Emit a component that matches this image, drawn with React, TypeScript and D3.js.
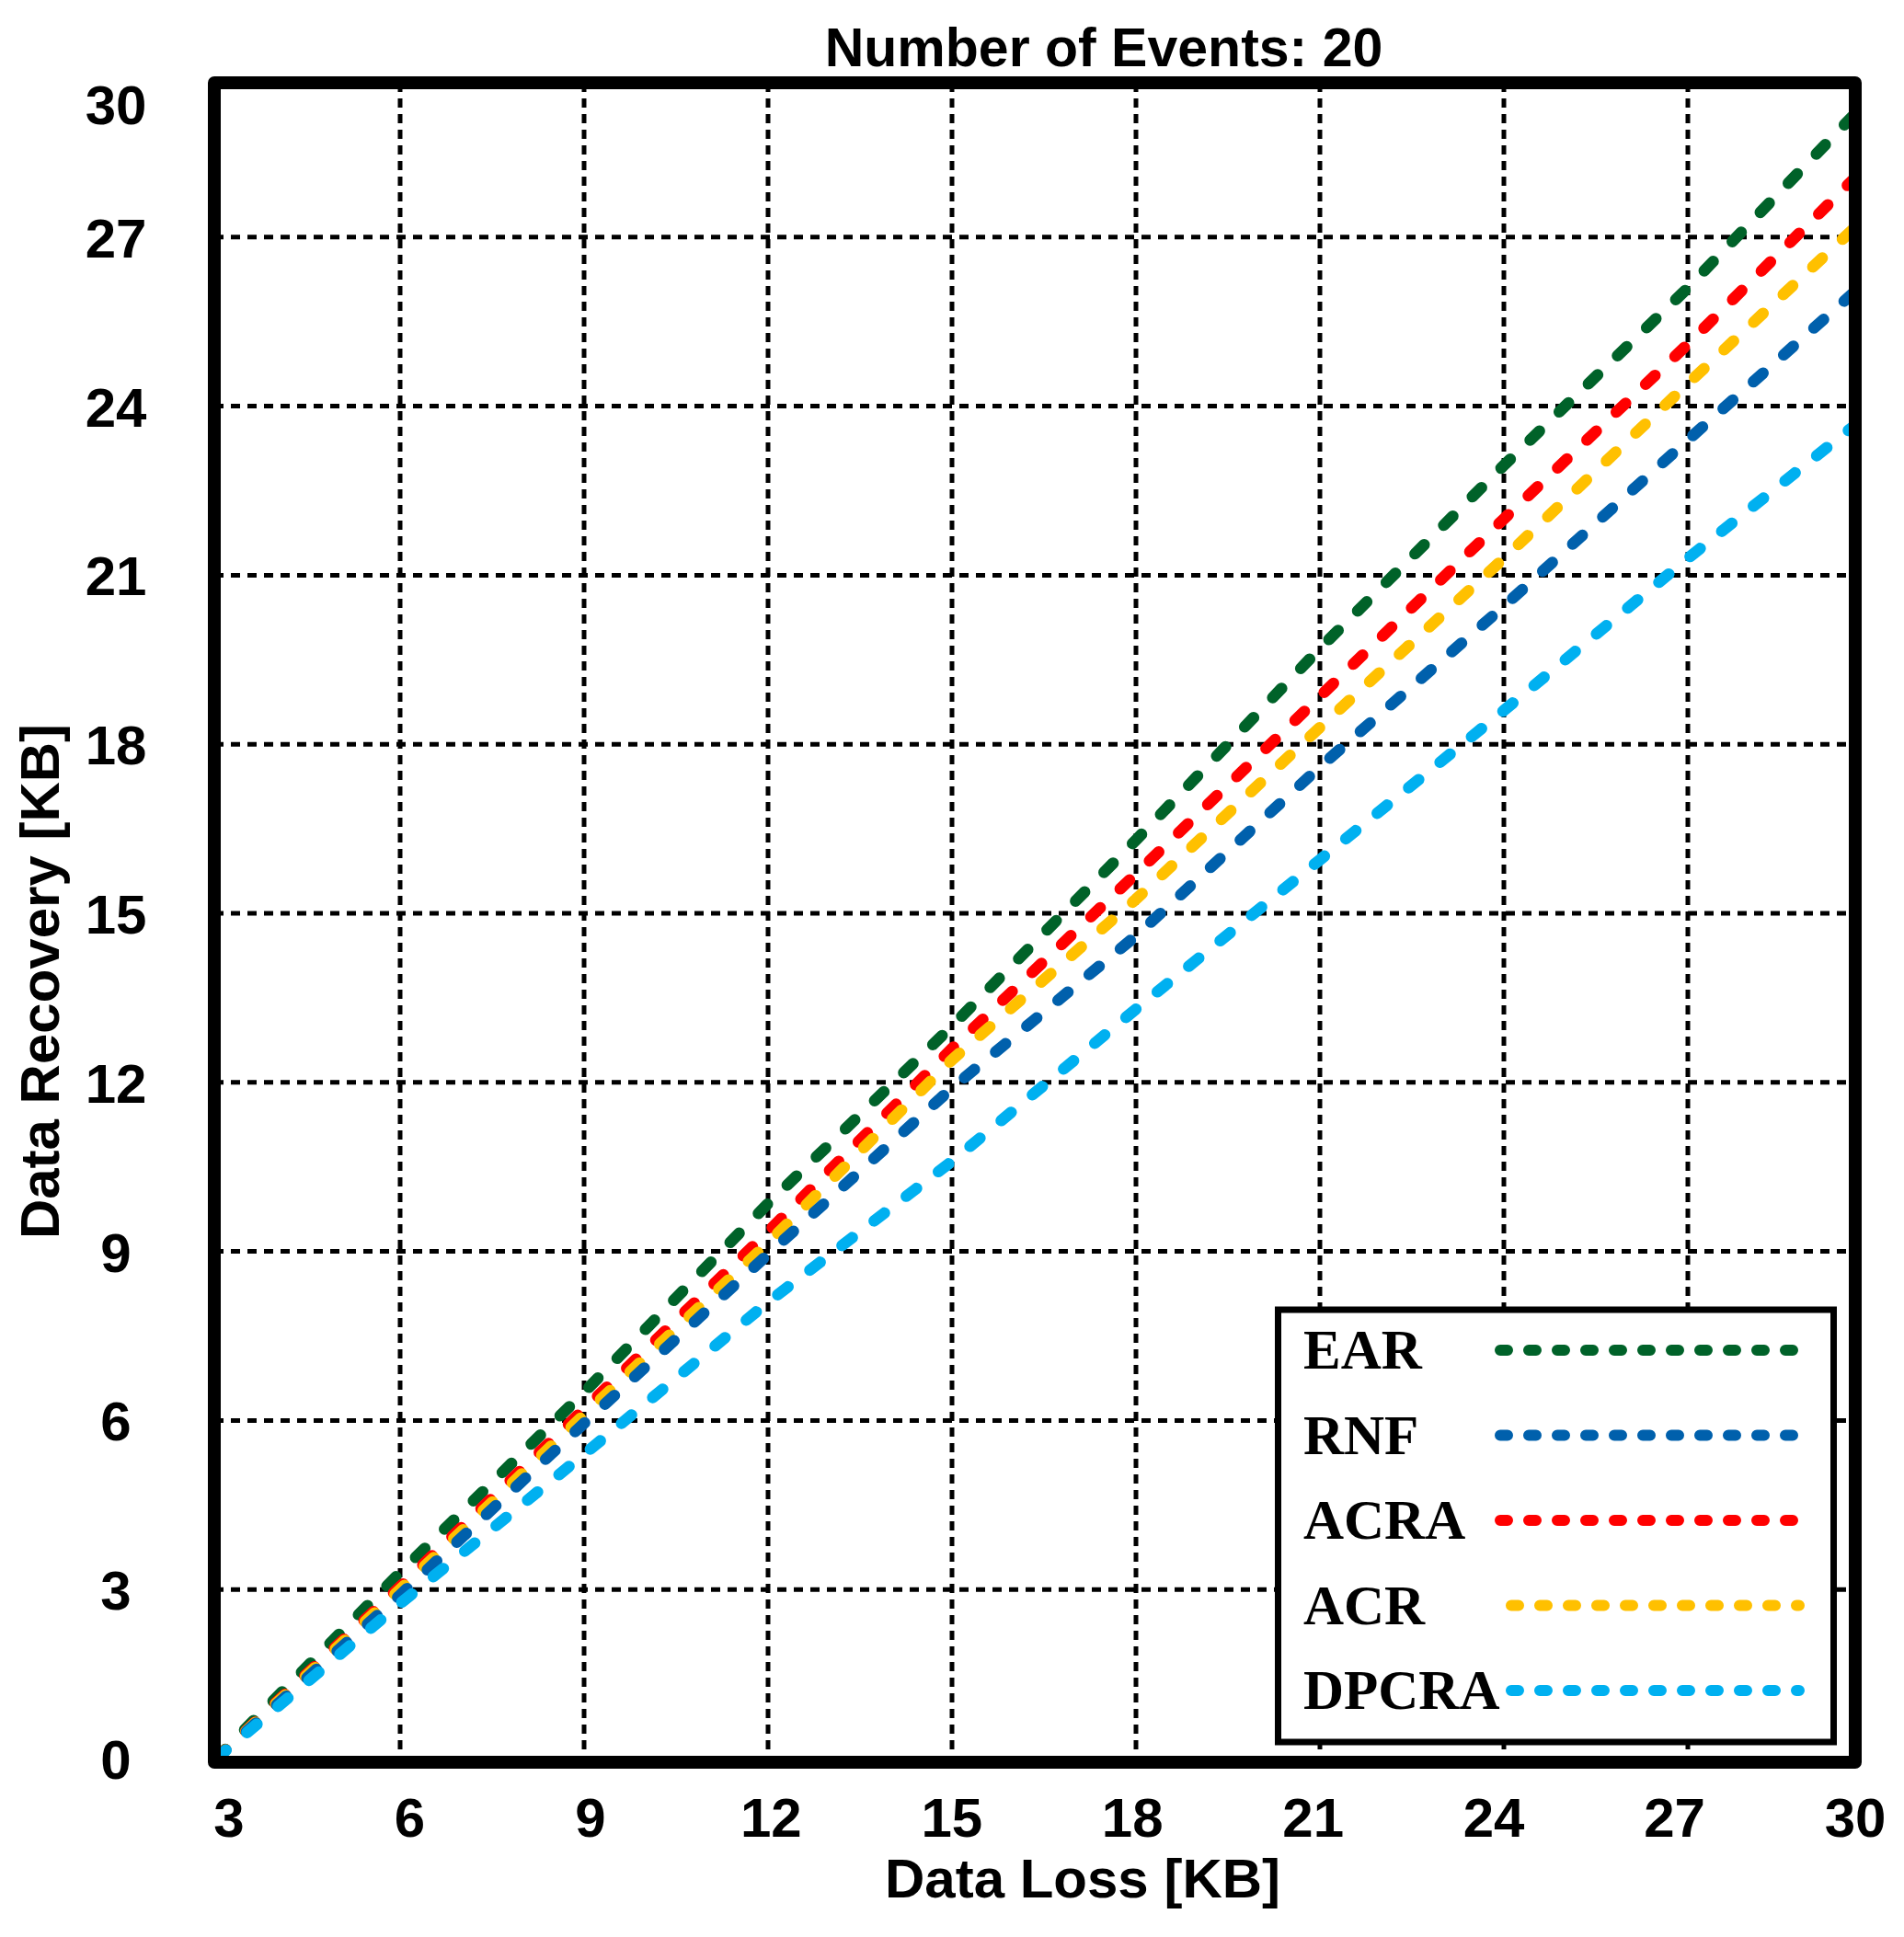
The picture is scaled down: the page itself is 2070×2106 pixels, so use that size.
import React, { useEffect, useRef } from 'react';
import * as d3 from 'd3';

// x positions (Data Loss, KB)
const dataLoss = [3, 6, 9, 12, 15, 18, 21, 24, 27, 30];

// (Data Recovery, KB)
const earValues = [0, 3.3, 6.5, 9.85, 13.0, 16.3, 19.7, 22.95, 26.1, 29.5];
const acraValues = [0, 3.05, 6.2, 9.35, 12.6, 15.7, 18.85, 22.0, 25.1, 28.35];
const acrValues = [0, 3.0, 6.1, 9.15, 12.4, 15.25, 18.3, 21.3, 24.4, 27.45];
const rnfValues = [0, 2.9, 5.95, 8.95, 11.9, 14.6, 17.6, 20.45, 23.4, 26.3];
const dpcraValues = [0, 2.75, 5.4, 8.1, 10.6, 13.3, 15.95, 18.6, 21.3, 23.9];

const xTicks = [3, 6, 9, 12, 15, 18, 21, 24, 27, 30];
const yTicks = [0, 3, 6, 9, 12, 15, 18, 21, 24, 27, 30];

// drawing order (last on top)
const series = [
    { name: 'EAR', values: earValues, color: '#006229' },
    { name: 'ACRA', values: acraValues, color: '#ff0000' },
    { name: 'ACR', values: acrValues, color: '#ffc000' },
    { name: 'RNF', values: rnfValues, color: '#0060ac' },
    { name: 'DPCRA', values: dpcraValues, color: '#00b0f0' },
];
// legend order
const legendOrder = ['EAR', 'RNF', 'ACRA', 'ACR', 'DPCRA'];

const W = 2070;
const H = 2106;

const App: React.FC = () => {
    const svgRef = useRef<SVGSVGElement>(null);

    useEffect(() => {
        if (!svgRef.current) return;
        const svg = d3.select(svgRef.current);
        svg.selectAll('*').remove();

        const sans = '"Liberation Sans", Arial, sans-serif';
        const serif = '"Liberation Serif", "Times New Roman", serif';

        const x = d3.scaleLinear().domain([3, 30]).range([235, 2035]);
        const y = d3.scaleLinear().domain([0, 30]).range([1912, 74]);
        // tick labels in the original sit a little inside the tick positions
        const xLabel = d3.scaleLinear().domain([3, 30]).range([249, 2017]);

        const frame = { left: 233, right: 2017, top: 90, bottom: 1916 };
        const fw = 14;

        svg.append('rect').attr('width', W).attr('height', H).attr('fill', '#fff');

        svg.append('defs').append('clipPath').attr('id', 'plot-clip')
            .append('rect')
            .attr('x', frame.left + fw / 2)
            .attr('y', frame.top + fw / 2)
            .attr('width', frame.right - frame.left - fw)
            .attr('height', frame.bottom - frame.top - fw);

        const plot = svg.append('g').attr('clip-path', 'url(#plot-clip)');

        // grid
        plot.selectAll('line.vgrid')
            .data(xTicks.slice(1, -1))
            .enter()
            .append('line')
            .attr('class', 'vgrid')
            .attr('x1', d => x(d)).attr('x2', d => x(d))
            .attr('y1', frame.top).attr('y2', frame.bottom)
            .attr('stroke', '#000')
            .attr('stroke-width', 5)
            .attr('stroke-dasharray', '10 7');

        plot.selectAll('line.hgrid')
            .data(yTicks.slice(1, -1))
            .enter()
            .append('line')
            .attr('class', 'hgrid')
            .attr('y1', d => y(d)).attr('y2', d => y(d))
            .attr('x1', frame.left).attr('x2', frame.right)
            .attr('stroke', '#000')
            .attr('stroke-width', 5)
            .attr('stroke-dasharray', '10 8');

        // series
        const line = d3.line<number>()
            .x((_, i) => x(dataLoss[i]))
            .y(d => y(d));

        plot.selectAll('path.series')
            .data(series)
            .enter()
            .append('path')
            .attr('class', 'series')
            .attr('d', d => line(d.values))
            .attr('fill', 'none')
            .attr('stroke', d => d.color)
            .attr('stroke-width', 12.5)
            .attr('stroke-linecap', 'round')
            .attr('stroke-dasharray', '14 30');

        // legend
        const lg = svg.append('g');
        lg.append('rect')
            .attr('x', 1389.5).attr('y', 1424)
            .attr('width', 604).attr('height', 470)
            .attr('fill', '#fff')
            .attr('stroke', '#000')
            .attr('stroke-width', 7);

        const rowY = d3.scaleLinear().domain([0, legendOrder.length - 1]).range([1488, 1858]);
        legendOrder.forEach((name, i) => {
            const s = series.find(d => d.name === name)!;
            const base = rowY(i);
            lg.append('text')
                .attr('x', 1417)
                .attr('y', base)
                .style('font-family', serif)
                .style('font-weight', 'bold')
                .style('font-size', '61px')
                .text(name);
            const indent = name === 'ACR' || name === 'DPCRA' ? 12 : 0;
            lg.append('line')
                .attr('x1', 1631 + indent).attr('x2', 1968 - indent)
                .attr('y1', base - 20).attr('y2', base - 20)
                .attr('stroke', s.color)
                .attr('stroke-width', 12)
                .attr('stroke-linecap', 'round')
                .attr('stroke-dasharray', '8 23');
        });

        // frame
        svg.append('rect')
            .attr('x', frame.left).attr('y', frame.top)
            .attr('width', frame.right - frame.left)
            .attr('height', frame.bottom - frame.top)
            .attr('fill', 'none')
            .attr('stroke', '#000')
            .attr('stroke-width', fw)
            .attr('stroke-linejoin', 'round');

        // tick labels
        svg.selectAll('text.xtick')
            .data(xTicks)
            .enter()
            .append('text')
            .attr('class', 'xtick')
            .attr('x', d => xLabel(d))
            .attr('y', 1997)
            .attr('text-anchor', 'middle')
            .style('font-family', sans)
            .style('font-weight', 'bold')
            .style('font-size', '60px')
            .text(d => d);

        svg.selectAll('text.ytick')
            .data(yTicks)
            .enter()
            .append('text')
            .attr('class', 'ytick')
            .attr('x', 126)
            .attr('y', d => Math.max(y(d), 113) + 22)
            .attr('text-anchor', 'middle')
            .style('font-family', sans)
            .style('font-weight', 'bold')
            .style('font-size', '60px')
            .text(d => d);

        // titles
        svg.append('text')
            .attr('x', 1200).attr('y', 72)
            .attr('text-anchor', 'middle')
            .style('font-family', sans)
            .style('font-weight', 'bold')
            .style('font-size', '59px')
            .text('Number of Events: 20');

        svg.append('text')
            .attr('x', 1177).attr('y', 2063)
            .attr('text-anchor', 'middle')
            .style('font-family', sans)
            .style('font-weight', 'bold')
            .style('font-size', '60px')
            .text('Data Loss [KB]');

        svg.append('text')
            .attr('transform', 'translate(64,1067) rotate(-90)')
            .attr('text-anchor', 'middle')
            .style('font-family', sans)
            .style('font-weight', 'bold')
            .style('font-size', '60px')
            .text('Data Recovery [KB]');
    }, []);

    return (
        <svg
            ref={svgRef}
            width={W}
            height={H}
            style={{ position: 'absolute', left: 0, top: 0, display: 'block' }}
        />
    );
};

export default App;
